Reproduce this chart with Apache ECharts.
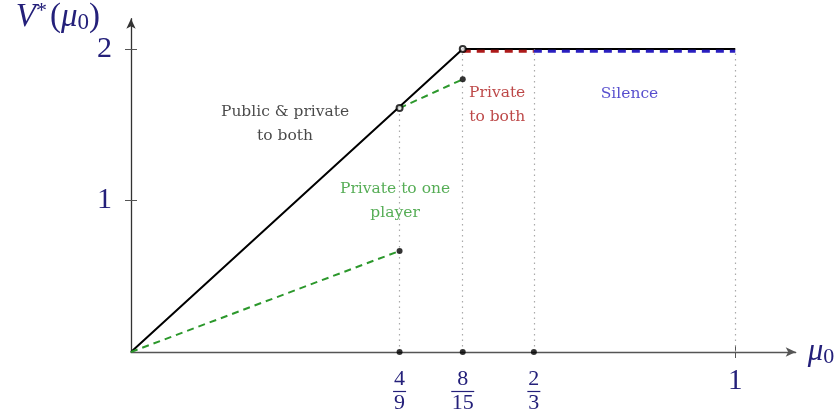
<!DOCTYPE html>
<html>
<head>
<meta charset="utf-8">
<script src="https://cdn.jsdelivr.net/npm/echarts@6/dist/echarts.min.js"></script>
<style>html,body{margin:0;padding:0;background:#fff}#c{width:837px;height:414px}</style>
</head>
<body>
<div id="c"></div>
<script>
// ---- data ----
const xRange = [0, 1.1];
const yRange = [0, 2.2];
const xTickValues = [4/9, 0.549, 2/3, 1];
const xTickLabels = ['4/9', '8/15', '2/3', '1'];
const yTickValues = [1, 2];
const yTickLabels = ['1', '2'];

const publicPrivateBoth = [[0, 0], [0.549, 2], [1, 2]];
const privateOneLow = [[0, 0], [4/9, 0.667]];
const privateOneHigh = [[4/9, 1.61], [0.549, 1.8]];
const privateBoth = [[0.549, 1.985], [2/3, 1.985]];
const silence = [[2/3, 1.985], [1, 1.985]];
const openPoints = [[4/9, 1.61], [0.549, 2]];
const closedPoints = [[4/9, 0.667], [0.549, 1.8], [4/9, 0], [0.549, 0], [2/3, 0]];
const guideX = [4/9, 0.549, 2/3, 1];
const guideTop = [1.61, 2, 2, 2];

const annotationTexts = ['Public & private\nto both', 'Private to one\nplayer', 'Private\nto both', 'Silence'];
const annotationAt = [[0.255, 1.505], [0.437, 1.0], [0.606, 1.63], [0.825, 1.7]];
const annotationColors = ['#1a1a1a', '#2c982c', '#ad1a1a', '#2a1fc0'];

// ---- chart ----
const NAVY = '#24207a';
const SERIF = '"Liberation Serif", "DejaVu Serif", serif';
const SMALL = '"DejaVu Serif", serif';
const chart = echarts.init(document.getElementById('c'), null, {renderer: 'canvas'});

function xLabel(v) {
  let i = xTickValues.findIndex(t => Math.abs(t - v) < 1e-6);
  if (i < 0) return '';
  const s = xTickLabels[i];
  if (s.indexOf('/') < 0) return '{big|' + s + '}';
  const [n, d] = s.split('/');
  const w = Math.max(n.length, d.length);
  return '{n|' + n + '}\n{bar' + w + '| }\n{n|' + d + '}';
}

const axisLineStyle = {color: '#555', width: 1.3};

const option = {
  animation: false,
  backgroundColor: '#fff',
  grid: {left: 131, right: 41.3, top: 18.7, bottom: 62, containLabel: false, outerBoundsMode: 'none'},
  xAxis: [{
    type: 'value', min: xRange[0], max: xRange[1], position: 'bottom',
    splitLine: {show: false},
    axisLine: {show: true, lineStyle: axisLineStyle, symbol: ['none', 'arrow'], symbolSize: [7, 10]},
    axisTick: {show: true, customValues: [1], length: 6, lineStyle: {color: '#555'}},
    axisLabel: {
      show: true, customValues: xTickValues, formatter: xLabel, margin: 18,
      color: NAVY, fontFamily: SERIF,
      rich: {
        n: {fontSize: 22, lineHeight: 19, color: NAVY, fontFamily: SERIF, align: 'center'},
        big: {fontSize: 29, lineHeight: 30, color: NAVY, fontFamily: SERIF, padding: [-8, 0, 0, 0]},
        bar1: {width: 13, height: 1.2, lineHeight: 5, backgroundColor: NAVY, fontSize: 1},
        bar2: {width: 23, height: 1.2, lineHeight: 5, backgroundColor: NAVY, fontSize: 1}
      }
    },
    name: '{m|μ}{s|0}', nameLocation: 'end', nameGap: 12,
    nameTextStyle: {rich: {
      m: {fontSize: 31, fontStyle: 'italic', color: NAVY, fontFamily: SERIF},
      s: {fontSize: 22, color: NAVY, fontFamily: SERIF, padding: [10, 0, 0, 0]}
    }}
  }, {
    type: 'value', min: xRange[0], max: xRange[1], position: 'bottom',
    splitLine: {show: false}, axisLine: {show: false}, axisLabel: {show: false},
    axisTick: {show: true, inside: true, customValues: [1], length: 6, lineStyle: {color: '#555'}}
  }],
  yAxis: [{
    type: 'value', min: yRange[0], max: yRange[1], position: 'left',
    splitLine: {show: false},
    axisLine: {show: true, lineStyle: {color: '#333', width: 1.3}, symbol: ['none', 'arrow'], symbolSize: [7, 10]},
    axisTick: {show: true, customValues: yTickValues, length: 6, lineStyle: {color: '#555'}},
    axisLabel: {
      show: true, customValues: yTickValues, margin: 19,
      formatter: v => { const i = yTickValues.indexOf(v); return i < 0 ? '' : yTickLabels[i]; },
      color: NAVY, fontSize: 30, fontFamily: SERIF
    },
    name: '{v|V}{st|*}{p|(}{m|μ}{s|0}{p|)}', nameLocation: 'end', nameGap: -4,
    nameTextStyle: {align: 'right', verticalAlign: 'middle', padding: [0, 31, 0, 0], rich: {
      v: {fontSize: 33, fontStyle: 'italic', color: NAVY, fontFamily: SERIF},
      st: {fontSize: 22, color: NAVY, fontFamily: SERIF, padding: [0, 3, 12, 0]},
      p: {fontSize: 33, color: NAVY, fontFamily: SERIF},
      m: {fontSize: 33, fontStyle: 'italic', color: NAVY, fontFamily: SERIF},
      s: {fontSize: 23, color: NAVY, fontFamily: SERIF, padding: [11, 0, 0, 0]}
    }}
  }, {
    type: 'value', min: yRange[0], max: yRange[1], position: 'left',
    splitLine: {show: false}, axisLine: {show: false}, axisLabel: {show: false},
    axisTick: {show: true, inside: true, customValues: yTickValues, length: 6, lineStyle: {color: '#555'}}
  }],
  series: [
    {
      type: 'line', name: 'guides', data: [], silent: true,
      markLine: {
        silent: true, symbol: ['none', 'none'], label: {show: false},
        lineStyle: {color: '#aaaaaa', type: [1.5, 4], width: 1.2},
        data: guideX.map((x, i) => [{coord: [x, 0]}, {coord: [x, guideTop[i]]}])
      }
    },
    {type: 'line', name: 'Public & private to both', data: publicPrivateBoth, symbol: 'none',
     lineStyle: {color: '#000', width: 2}},
    {type: 'line', name: 'Private to one (low)', data: privateOneLow, symbol: 'none',
     lineStyle: {color: '#2c982c', width: 2, type: [7, 5]}},
    {type: 'line', name: 'Private to one (high)', data: privateOneHigh, symbol: 'none',
     lineStyle: {color: '#2c982c', width: 2, type: [7, 5]}},
    {type: 'line', name: 'Private to both', data: privateBoth, symbol: 'none',
     lineStyle: {color: '#ad1a1a', width: 2.8, type: [8, 6]}},
    {type: 'line', name: 'Silence', data: silence, symbol: 'none',
     lineStyle: {color: '#2a1fc0', width: 2.8, type: [8, 6]}},
    {type: 'scatter', name: 'open', data: openPoints, symbol: 'emptyCircle', symbolSize: 6,
     itemStyle: {color: '#000', borderColor: '#000', borderWidth: 1.3}, z: 10},
    {type: 'scatter', name: 'closed', data: closedPoints, symbol: 'circle', symbolSize: 6,
     itemStyle: {color: '#000'}, z: 10},
    {type: 'scatter', name: 'annotations', symbolSize: 0, silent: true, z: 12,
     data: annotationTexts.map((t, i) => ({
       value: annotationAt[i],
       label: {show: true, position: 'inside', formatter: t, color: annotationColors[i],
               fontSize: 15.5, lineHeight: 24, fontFamily: SMALL, align: 'center'}
     }))}
  ]
};
chart.setOption(option);
</script>
</body>
</html>
